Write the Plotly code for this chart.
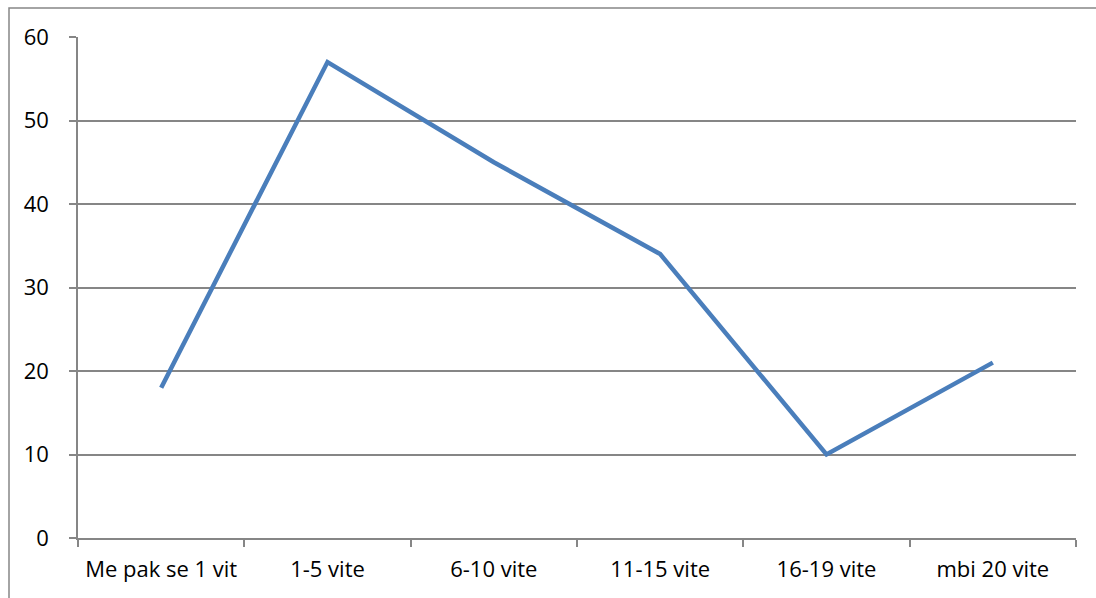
import plotly.graph_objects as go

categories = ["Me pak se 1 vit", "1-5 vite", "6-10 vite", "11-15 vite", "16-19 vite", "mbi 20 vite"]
values = [18, 57, 45, 34, 10, 21]
y_ticks = [0, 10, 20, 30, 40, 50, 60]

W, H = 1096, 598
L, R, T, B = 78, 20, 37, 60
pw, ph = W - L - R, H - T - B

fig = go.Figure(go.Scatter(
    x=categories, y=values, mode="lines",
    line=dict(color="#4A7EBB", width=4.5),
    hoverinfo="skip",
))

axis_font = dict(family="Open Sans", size=22, color="#000000")

fig.update_layout(
    width=W, height=H,
    margin=dict(l=L, r=R, t=T, b=B),
    paper_bgcolor="white", plot_bgcolor="white",
    showlegend=False,
    xaxis=dict(
        type="category", range=[-0.5, 5.5],
        tickson="boundaries", ticks="outside", ticklen=7, tickcolor="#868686", tickwidth=1.5,
        showgrid=False, showline=True, linecolor="#868686", linewidth=1.5,
        tickfont=axis_font, zeroline=False, ticklabelstandoff=11,
    ),
    yaxis=dict(
        range=[0, 60], tickvals=y_ticks,
        ticks="outside", ticklen=7, tickcolor="#868686", tickwidth=1.5,
        showgrid=True, gridcolor="#868686", gridwidth=1.5,
        showline=True, linecolor="#868686", linewidth=1.5,
        tickfont=axis_font, zeroline=False, ticklabelstandoff=16,
    ),
    shapes=[dict(
        type="rect", xref="paper", yref="paper",
        x0=(9 - L) / pw, x1=(W + 10 - L) / pw,
        y0=(T + ph - (H + 10)) / ph, y1=(T + ph - 8) / ph,
        line=dict(color="#868686", width=1.5), fillcolor="rgba(0,0,0,0)",
        layer="below",
    )],
)

fig.write_html("out.html")
